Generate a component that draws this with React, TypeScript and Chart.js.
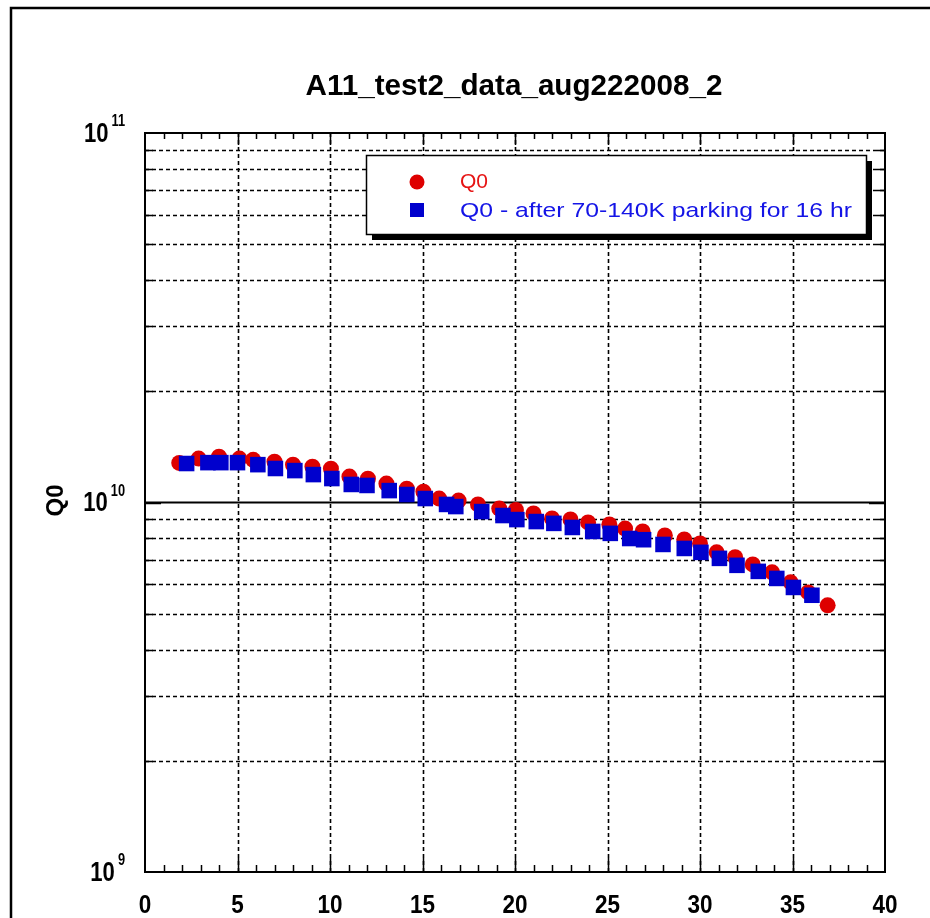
import React, { useEffect, useRef } from "react";
import { Chart, registerables } from "chart.js";

Chart.register(...registerables);

const chartTitle = "A11_test2_data_aug222008_2";
const yAxisTitle = "Q0";
const xTickValues = [0, 5, 10, 15, 20, 25, 30, 35, 40];
const yDecades = [1e9, 1e10, 1e11];
const yDecadeExponents = ["9", "10", "11"];

const seriesQ0Label = "Q0";
const seriesParkLabel = "Q0 - after 70-140K parking for 16 hr";

const q0X = [1.85, 2.9, 4.0, 5.1, 5.85, 7.0, 8.0, 9.05, 10.05, 11.05, 12.05, 13.05, 14.15, 15.05, 15.9, 16.95, 18.0, 19.15, 20.05, 21.0, 22.0, 23.0, 23.95, 25.1, 25.95, 26.9, 28.1, 29.15, 30.0, 30.9, 31.9, 32.85, 33.9, 34.9, 35.85, 36.9];
const q0Y = [1.28e10, 1.315e10, 1.33e10, 1.315e10, 1.305e10, 1.29e10, 1.265e10, 1.25e10, 1.235e10, 1.175e10, 1.16e10, 1.125e10, 1.09e10, 1.07e10, 1.025e10, 1.012e10, 0.988e10, 0.963e10, 0.955e10, 0.934e10, 0.905e10, 0.9e10, 0.883e10, 0.872e10, 0.85e10, 0.835e10, 0.814e10, 0.794e10, 0.775e10, 0.733e10, 0.711e10, 0.68e10, 0.647e10, 0.608e10, 0.571e10, 0.527e10];

const parkX = [2.25, 3.4, 4.1, 5.0, 6.1, 7.05, 8.1, 9.1, 10.1, 11.15, 12.0, 13.2, 14.15, 15.15, 16.3, 16.8, 18.2, 19.35, 20.1, 21.15, 22.1, 23.1, 24.2, 25.15, 26.2, 26.95, 28.0, 29.15, 30.05, 31.05, 32.0, 33.15, 34.15, 35.05, 36.05];
const parkY = [1.275e10, 1.282e10, 1.282e10, 1.282e10, 1.266e10, 1.236e10, 1.22e10, 1.19e10, 1.161e10, 1.119e10, 1.112e10, 1.077e10, 1.051e10, 1.025e10, 0.988e10, 0.975e10, 0.945e10, 0.922e10, 0.899e10, 0.888e10, 0.878e10, 0.856e10, 0.835e10, 0.825e10, 0.799e10, 0.793e10, 0.77e10, 0.751e10, 0.733e10, 0.706e10, 0.676e10, 0.651e10, 0.623e10, 0.589e10, 0.561e10];

const RED = "rgb(222,0,0)";
const BLUE = "rgb(0,0,205)";

function drawScaledText(
  ctx: CanvasRenderingContext2D,
  text: string,
  x: number,
  y: number,
  font: string,
  align: "left" | "right" | "center",
  sx: number,
  sy: number,
  color: string
) {
  ctx.save();
  ctx.font = font;
  ctx.fillStyle = color;
  ctx.textBaseline = "middle";
  ctx.textAlign = align;
  ctx.translate(x, y);
  ctx.scale(sx, sy);
  ctx.fillText(text, 0, 0);
  ctx.restore();
}

const framePlugin = {
  id: "framePlugin",
  beforeDraw(chart: any) {
    const ctx: CanvasRenderingContext2D = chart.ctx;
    ctx.save();
    ctx.fillStyle = "#ffffff";
    ctx.fillRect(0, 0, chart.width, chart.height);
    ctx.strokeStyle = "#000";
    ctx.lineWidth = 2.5;
    ctx.beginPath();
    ctx.moveTo(11, chart.height);
    ctx.lineTo(11, 8);
    ctx.lineTo(chart.width, 8);
    ctx.stroke();
    ctx.restore();
  },
  beforeDatasetsDraw(chart: any) {
    const ctx: CanvasRenderingContext2D = chart.ctx;
    const xs = chart.scales.x;
    const ys = chart.scales.y;
    const a = chart.chartArea;
    ctx.save();
    ctx.strokeStyle = "#000";
    ctx.lineWidth = 1.6;
    ctx.setLineDash([4, 3]);
    for (let d = 0; d < yDecades.length - 1; d++) {
      for (let m = 2; m <= 9; m++) {
        const y = Math.round(ys.getPixelForValue(yDecades[d] * m)) + 0.5;
        ctx.beginPath();
        ctx.moveTo(a.left, y);
        ctx.lineTo(a.right, y);
        ctx.stroke();
      }
    }
    for (const v of xTickValues) {
      if (v <= xs.min || v >= xs.max) continue;
      const x = Math.round(xs.getPixelForValue(v)) + 0.5;
      ctx.beginPath();
      ctx.moveTo(x, a.top);
      ctx.lineTo(x, a.bottom);
      ctx.stroke();
    }
    ctx.setLineDash([]);
    ctx.lineWidth = 2;
    const y10 = ys.getPixelForValue(1e10);
    ctx.beginPath();
    ctx.moveTo(a.left, y10);
    ctx.lineTo(a.right, y10);
    ctx.stroke();

    ctx.lineWidth = 1.5;
    for (let v = xs.min + 1; v < xs.max; v++) {
      const x = Math.round(xs.getPixelForValue(v)) + 0.5;
      const len = v % 5 === 0 ? 14 : 7;
      ctx.beginPath();
      ctx.moveTo(x, a.bottom);
      ctx.lineTo(x, a.bottom - len);
      ctx.moveTo(x, a.top);
      ctx.lineTo(x, a.top + (v % 5 === 0 ? 12 : 6));
      ctx.stroke();
    }
    for (let d = 0; d < yDecades.length - 1; d++) {
      for (let m = 1; m <= 9; m++) {
        if (d === 0 && m === 1) continue;
        const y = Math.round(ys.getPixelForValue(yDecades[d] * m)) + 0.5;
        const len = m === 1 ? 16 : 8;
        ctx.beginPath();
        ctx.moveTo(a.left, y);
        ctx.lineTo(a.left + len, y);
        ctx.moveTo(a.right, y);
        ctx.lineTo(a.right - len, y);
        ctx.stroke();
      }
    }
    ctx.lineWidth = 2;
    ctx.strokeRect(a.left, a.top, a.right - a.left, a.bottom - a.top);

    for (const v of xTickValues) {
      const x = xs.getPixelForValue(v);
      drawScaledText(ctx, String(v), x, 906, "bold 25px 'Liberation Sans', Arial, sans-serif", "center", 0.9, 1, "#000");
    }
    for (let i = 0; i < yDecades.length; i++) {
      const y = ys.getPixelForValue(yDecades[i]);
      const exp = yDecadeExponents[i];
      const supFont = "bold 16px 'Liberation Sans', Arial, sans-serif";
      ctx.save();
      ctx.font = supFont;
      const expW = ctx.measureText(exp).width * 0.8;
      ctx.restore();
      const right = 125;
      drawScaledText(ctx, exp, right, y - 11, supFont, "right", 0.8, 1, "#000");
      drawScaledText(ctx, "10", right - expW - 3, y + 1, "bold 26px 'Liberation Sans', Arial, sans-serif", "right", 0.85, 1.05, "#000");
    }
    ctx.save();
    ctx.translate(56, (a.top + a.bottom) / 2 - 2);
    ctx.rotate(-Math.PI / 2);
    ctx.font = "bold 24px 'Liberation Sans', Arial, sans-serif";
    ctx.fillStyle = "#000";
    ctx.textAlign = "center";
    ctx.textBaseline = "middle";
    ctx.fillText(yAxisTitle, 0, 0);
    ctx.restore();

    ctx.save();
    ctx.font = "bold 28px 'Liberation Sans', Arial, sans-serif";
    const tw = ctx.measureText(chartTitle).width;
    ctx.restore();
    drawScaledText(ctx, chartTitle, (a.left + a.right) / 2 - 1, 87, "bold 28px 'Liberation Sans', Arial, sans-serif", "center", 417 / tw, 1.05, "#000");
    ctx.restore();
  },
  afterDatasetsDraw(chart: any) {
    const ctx: CanvasRenderingContext2D = chart.ctx;
    ctx.save();
    const bx = 366, by = 155, bw = 500, bh = 79;
    ctx.fillStyle = "#000";
    ctx.fillRect(bx + 6, by + 6, bw, bh);
    ctx.fillStyle = "#fff";
    ctx.fillRect(bx, by, bw, bh);
    ctx.strokeStyle = "#000";
    ctx.lineWidth = 1.5;
    ctx.strokeRect(bx + 0.5, by + 0.5, bw, bh);
    ctx.fillStyle = RED;
    ctx.beginPath();
    ctx.arc(417, 182, 7.5, 0, Math.PI * 2);
    ctx.fill();
    ctx.fillStyle = BLUE;
    ctx.fillRect(410, 203, 14, 14);
    ctx.font = "21px 'Liberation Sans', Arial, sans-serif";
    ctx.textBaseline = "middle";
    ctx.textAlign = "left";
    ctx.fillStyle = "rgb(230,20,20)";
    ctx.fillText(seriesQ0Label, 460, 182);
    ctx.fillStyle = "rgb(20,20,230)";
    const w = ctx.measureText(seriesParkLabel).width;
    ctx.save();
    ctx.translate(460, 211);
    ctx.scale(392 / w, 1);
    ctx.fillText(seriesParkLabel, 0, 0);
    ctx.restore();
    ctx.restore();
  },
};

export default function App() {
  const canvasRef = useRef<HTMLCanvasElement | null>(null);

  useEffect(() => {
    if (!canvasRef.current) return;
    const chart = new Chart(canvasRef.current, {
      type: "scatter",
      data: {
        datasets: [
          {
            label: seriesParkLabel,
            data: parkX.map((x, i) => ({ x, y: parkY[i] })),
            backgroundColor: BLUE,
            borderColor: BLUE,
            borderWidth: 0,
            pointStyle: "rect",
            pointRadius: 11,
            order: 0,
          },
          {
            label: seriesQ0Label,
            data: q0X.map((x, i) => ({ x, y: q0Y[i] })),
            backgroundColor: RED,
            borderColor: RED,
            borderWidth: 0,
            pointStyle: "circle",
            pointRadius: 8,
            order: 1,
          },
        ],
      },
      options: {
        responsive: false,
        animation: false,
        devicePixelRatio: 1,
        layout: { padding: { left: 145, top: 133, right: 45, bottom: 46 } },
        plugins: {
          legend: { display: false },
          tooltip: { enabled: false },
          title: { display: false },
        },
        scales: {
          x: { type: "linear", min: 0, max: 40, display: false },
          y: { type: "logarithmic", min: 1e9, max: 1e11, display: false },
        },
      },
      plugins: [framePlugin],
    });
    return () => chart.destroy();
  }, []);

  return (
    <div style={{ position: "absolute", left: 0, top: 0, width: 930, height: 918 }}>
      <canvas ref={canvasRef} width={930} height={918} style={{ display: "block" }} />
    </div>
  );
}
